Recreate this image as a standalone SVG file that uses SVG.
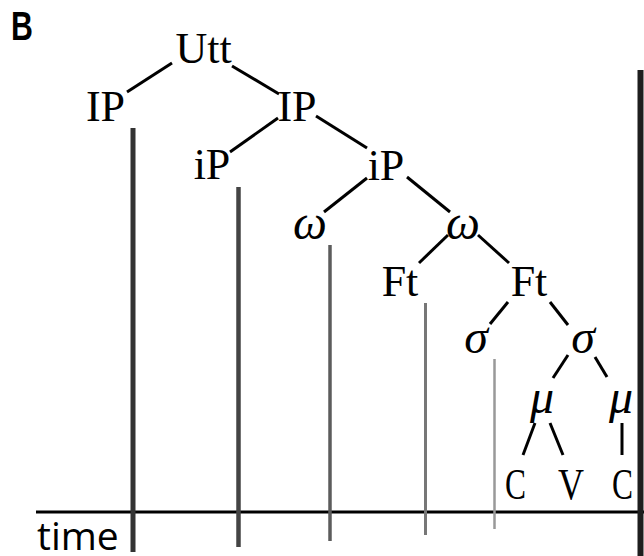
<svg xmlns="http://www.w3.org/2000/svg" width="644" height="556" viewBox="0 0 644 556">
<style>
.lab{font-family:"Liberation Serif","DejaVu Serif",serif;font-size:44px;fill:#000;text-anchor:middle}
.gr{font-family:"Liberation Serif","DejaVu Serif",serif;font-style:italic;font-size:48px;fill:#000;text-anchor:middle}
.cv{font-family:"Liberation Serif","DejaVu Serif",serif;font-size:44px;fill:#000}
.edge{stroke:#000;stroke-width:3;fill:none}
</style>
<rect width="644" height="556" fill="#fff"/>
<text transform="translate(11,40) scale(0.74,1)" font-family="Liberation Sans, Arial, sans-serif" font-weight="bold" font-size="41">B</text>
<g id="timeline">
<line x1="36" y1="512" x2="644" y2="512" stroke="#000" stroke-width="3"/>
<text x="37" y="550" font-family="Open Sans, Liberation Sans, sans-serif" font-size="39">time</text>
</g>
<g id="boundaries">
<line x1="133" y1="128" x2="133" y2="552" stroke="#333" stroke-width="5"/>
<line x1="238.5" y1="187" x2="238.5" y2="547" stroke="#444" stroke-width="4.5"/>
<line x1="330" y1="245" x2="330" y2="541" stroke="#5c5c5c" stroke-width="3.5"/>
<line x1="425.5" y1="303" x2="425.5" y2="535" stroke="#777" stroke-width="3"/>
<line x1="494.5" y1="359" x2="494.5" y2="529" stroke="#999" stroke-width="2.5"/>
<line x1="640.5" y1="70" x2="640.5" y2="556" stroke="#1e1e1e" stroke-width="6"/>
</g>
<g id="connectors">
<line class="edge" x1="127" y1="92" x2="172" y2="63"/>
<line class="edge" x1="232" y1="66" x2="279" y2="94"/>
<line class="edge" x1="278" y1="118" x2="230" y2="152"/>
<line class="edge" x1="316" y1="116" x2="367" y2="148"/>
<line class="edge" x1="367" y1="178" x2="324" y2="212"/>
<line class="edge" x1="407" y1="177" x2="450" y2="212"/>
<line class="edge" x1="448" y1="235" x2="419" y2="263"/>
<line class="edge" x1="478" y1="235" x2="509" y2="263"/>
<line class="edge" x1="508" y1="302" x2="490" y2="324"/>
<line class="edge" x1="550" y1="302" x2="568" y2="325"/>
<line class="edge" x1="568" y1="355" x2="553" y2="378"/>
<line class="edge" x1="595" y1="357" x2="607" y2="377"/>
<line class="edge" x1="523" y1="455" x2="535" y2="423"/>
<line class="edge" x1="550" y1="423" x2="563" y2="455"/>
<line class="edge" x1="622" y1="423" x2="622" y2="455"/>
</g>
<g id="n-utt"><text class="lab" x="203.5" y="63">Utt</text></g>
<g id="n-ip1"><text class="lab" x="105.5" y="121">IP</text></g>
<g id="n-ip2"><text class="lab" x="297" y="121">IP</text></g>
<g id="n-ip3"><text class="lab" x="212" y="179">iP</text></g>
<g id="n-ip4"><text class="lab" x="386" y="180">iP</text></g>
<g id="n-w1"><text class="gr" x="310" y="239">ω</text></g>
<g id="n-w2"><text class="gr" x="463" y="239">ω</text></g>
<g id="n-ft1"><text class="lab" x="400" y="296">Ft</text></g>
<g id="n-ft2"><text class="lab" x="529" y="296">Ft</text></g>
<g id="n-s1"><text class="gr" x="476" y="353">σ</text></g>
<g id="n-s2"><text class="gr" x="583" y="353">σ</text></g>
<g id="n-m1"><text class="gr" x="542" y="413">μ</text></g>
<g id="n-m2"><text class="gr" x="621" y="413">μ</text></g>
<g id="n-c1"><text class="cv" x="505" y="499" textLength="21" lengthAdjust="spacingAndGlyphs">C</text></g>
<g id="n-v"><text class="cv" x="558" y="499" textLength="26" lengthAdjust="spacingAndGlyphs">V</text></g>
<g id="n-c2"><text class="cv" x="612" y="499" textLength="21" lengthAdjust="spacingAndGlyphs">C</text></g>
</svg>
